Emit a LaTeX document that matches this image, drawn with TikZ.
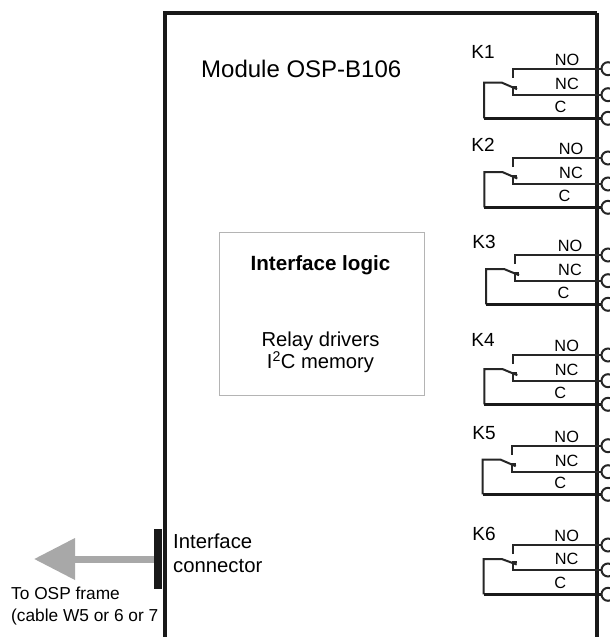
\documentclass[tikz,border=0pt]{standalone}
\usepackage{fontspec}
\setmainfont{Liberation Sans}
\usetikzlibrary{arrows.meta}
\definecolor{arrowgray}{HTML}{A8A8A8}
\definecolor{boxgray}{HTML}{B4B4B4}
\tikzset{
    wall/.style={line width=3.6pt, draw=black!90},
    wire/.style={line width=2pt, draw=black!85},
    cwire/.style={line width=3pt, draw=black!90},
    terminal/.style={circle, draw=black!85, line width=2pt, minimum size=13pt, inner sep=0pt},
    relaylabel/.style={font=\fontsize{19}{20}\selectfont, inner sep=0pt},
    pinlabel/.style={font=\fontsize{16.3}{18}\selectfont, inner sep=0pt},
    boxtext/.style={font=\fontsize{20.3}{24}\selectfont, inner sep=0pt, align=center},
}

\begin{document}
\begin{tikzpicture}[x=1pt, y=-1pt]
    \useasboundingbox (0,0) rectangle (610,637);
    \fill[white] (0,0) rectangle (610,637);

    % module outline
    \coordinate (leftfoot) at (165,637);
    \coordinate (lefttop) at (165,13);
    \coordinate (righttop) at (597,13);
    \coordinate (rightfoot) at (597,637);
    \draw[wall, line width=3.2pt] (leftfoot) -- (lefttop) -- (righttop);
    \draw[wall] (righttop) -- (rightfoot);
    \node[anchor=west, inner sep=0pt, font=\fontsize{24}{26}\selectfont] (title) at (201,69) {Module OSP-B106};

    % logic box
    \node[draw=boxgray, line width=0.8pt, minimum width=205pt, minimum height=163pt, inner sep=0pt] (logic) at (321.5,313.5) {};
    \node[boxtext, font=\fontsize{20.6}{24}\selectfont\bfseries] (logictitle) at (320.5,265.5) {Interface logic};
    \node[boxtext, font=\fontsize{20.2}{22.5}\selectfont] (logicbody) at (320.5,352.5) {Relay drivers\\I\textsuperscript{2}C memory};

    % connector and arrow
    \node[fill=black!90, minimum width=8pt, minimum height=60pt, inner sep=0pt] (conn) at (158,559) {};
    \coordinate (tip) at (34,559);
    \draw[line width=7pt, arrowgray, -{Triangle[length=41pt, width=40pt]}] (conn.west) -- (tip);
    \node[boxtext, anchor=west, align=left] (connlabel) at (173,553.5) {Interface\\connector};
    \node[anchor=west, inner sep=0pt, align=left, font=\fontsize{17.3}{21.5}\selectfont] (framelabel) at (11,606) {To OSP frame\\(cable W5 or 6 or 7};

    % relays
    \foreach \i/\kx/\ky/\rx/\lx/\noy/\ncy/\cy in {
        1/483/52/513/567/68.7/94.7/118.3,
        2/483/145/513.3/571/158/184/207.3,
        3/484/242/515/570/255/280.7/304.3,
        4/483/340/513.3/566.7/355/380.7/404.3,
        5/484/433/511.7/566.7/445.7/471.7/494.3,
        6/484/534/512.7/566.7/545/570/594.3} {
        \node[relaylabel] (k\i) at (\kx,\ky) {K\i};
        \node[pinlabel] (no\i) at (\lx,\noy-8.7) {NO};
        \node[pinlabel] (nc\i) at (\lx,\ncy-10.7) {NC};
        \node[pinlabel] (c\i) at (\lx-6.5,\cy-11) {C};
        \node[terminal] (tno\i) at (608,\noy) {};
        \node[terminal] (tnc\i) at (608,\ncy) {};
        \node[terminal] (tc\i) at (608,\cy) {};
        \coordinate (nostub\i) at (\rx,\noy+9);
        \coordinate (nocorner\i) at (\rx,\noy);
        \coordinate (ncstub\i) at (\rx+4,\ncy-8);
        \coordinate (nccorner\i) at (\rx,\ncy);
        \coordinate (ncbend\i) at (\rx,\ncy-8);
        \coordinate (bladeend\i) at (\rx+4,\ncy-5.5);
        \coordinate (bladehinge\i) at (\rx-11,\noy+14);
        \coordinate (bladeleft\i) at (\rx-29,\noy+14);
        \coordinate (ccorner\i) at (\rx-29,\cy);
        \draw[wire] (nostub\i) -- (nocorner\i) -- (tno\i.west);
        \draw[wire] (ncstub\i) -- (ncbend\i) -- (nccorner\i) -- (tnc\i.west);
        \draw[wire] (bladeend\i) -- (bladehinge\i) -- (bladeleft\i) -- (ccorner\i);
        \draw[cwire] (ccorner\i) -- (tc\i.west);
    }
\end{tikzpicture}
\end{document}
